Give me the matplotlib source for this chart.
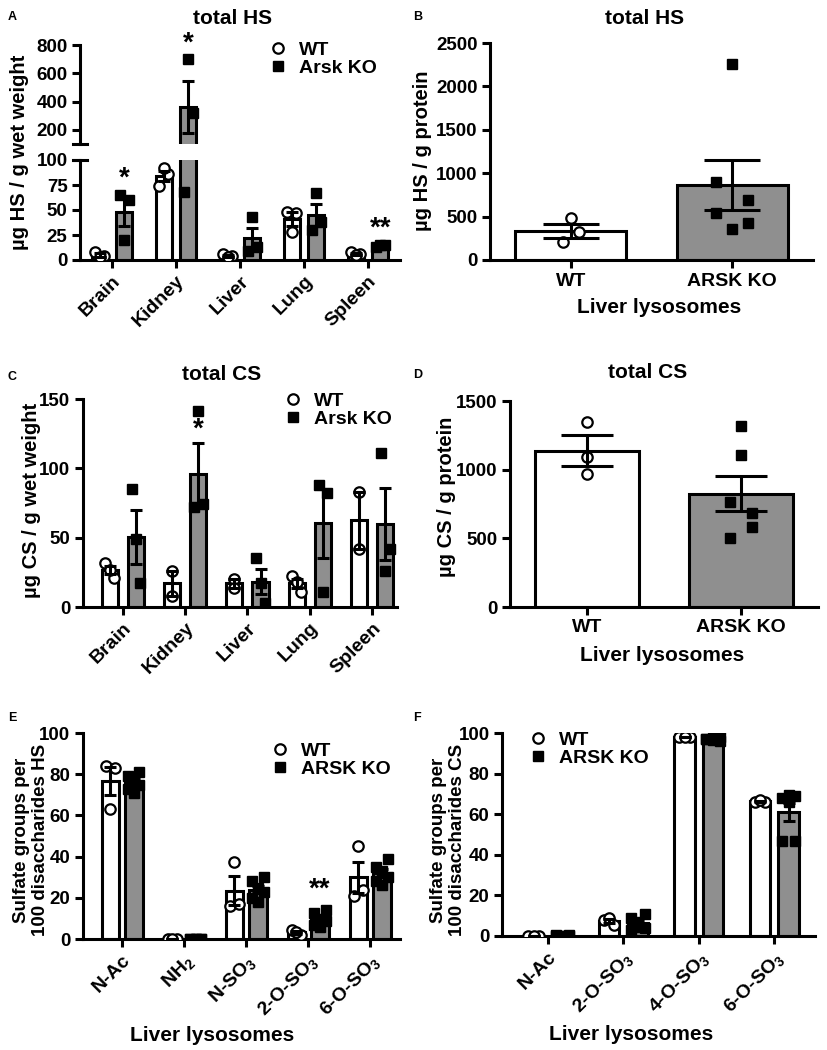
import numpy as np
import matplotlib
matplotlib.use('Agg')
import matplotlib.pyplot as plt
from matplotlib.lines import Line2D

plt.rcParams['font.family'] = ['Liberation Sans', 'DejaVu Sans']
plt.rcParams['font.weight'] = 'bold'
plt.rcParams['axes.labelweight'] = 'bold'
plt.rcParams['mathtext.fontset'] = 'custom'
plt.rcParams['mathtext.rm'] = 'Liberation Sans:bold'
plt.rcParams['mathtext.it'] = 'Liberation Sans:bold'
plt.rcParams['mathtext.bf'] = 'Liberation Sans:bold'
plt.rcParams['axes.linewidth'] = 2.2
for a in ('xtick', 'ytick'):
    plt.rcParams[a + '.major.width'] = 2.2
    plt.rcParams[a + '.major.size'] = 6
    plt.rcParams[a + '.major.pad'] = 3
    plt.rcParams[a + '.labelsize'] = 13.5

# ---- data ----
tissues = ['Brain', 'Kidney', 'Liver', 'Lung', 'Spleen']
# A: total HS, ug / g wet weight
hs_wt = [[8, 4, 3], [74, 86, 92], [6, 4, 3], [48, 47, 28], [8, 6, 5]]
hs_ko = [[65, 60, 20], [68, 319, 701], [9, 13, 43], [30, 38, 67], [13, 15, 15]]
hs_stars = ['*', '*', '', '', '**']
hs_star_y = [81, 807, 0, 0, 31]

# B: total HS, liver lysosomes, ug / g protein
hsp_wt = [210, 320, 480]
hsp_ko = [540, 430, 2260, 900, 690, 360]

# C: total CS, ug / g wet weight
cs_wt = [[32, 21, 27], [26, 8], [20, 14], [22, 11, 18], [83, 42]]
cs_ko = [[85, 17, 49], [72, 74, 141], [35, 3, 17], [88, 82, 11], [111, 42, 26]]
cs_stars = ['', '*', '', '', '']
cs_star_y = [0, 128, 0, 0, 0]

# D: total CS, liver lysosomes
csp_wt = [967, 1094, 1349]
csp_ko = [766, 681, 1318, 506, 579, 1106]

# E: HS sulfation
e_labels = ['N-Ac', 'NH$_2$', 'N-SO$_3$', '2-O-SO$_3$', '6-O-SO$_3$']
e_wt = [[84, 83, 63], [0, 0, 0], [16, 17, 37.6], [4.4, 2, 3.6], [21, 24, 45]]
e_ko = [[79, 81, 77, 73, 75, 71], [0, 0, 0, 0, 0, 0], [28, 30, 25, 20, 23, 18],
        [12.5, 14, 9.5, 7, 8.5, 6], [35, 39, 33, 28, 30, 26]]
e_stars = ['', '', '', '**', '']
e_star_y = [0, 0, 0, 24, 0]

# F: CS sulfation
f_labels = ['N-Ac', '2-O-SO$_3$', '4-O-SO$_3$', '6-O-SO$_3$']
f_wt = [[0, 0, 0], [8, 5.5, 9], [98, 98, 98], [66, 66, 67]]
f_ko = [[0.3, 0.5, 0.1, 0, 0.2, 0], [8.7, 11, 4.6, 3, 3.8, 7],
        [97, 98, 96.5, 97, 96, 97.5], [47, 47, 69.6, 68, 68.8, 66]]

GRAY = '#8f8f8f'
LW = 2.2
W, H = 827, 1050


def spread(n, w):
    if n == 3:
        return np.array([-w, w, 0])
    if n == 6:
        return np.array([-w, w, 0, -w, w, 0])
    return np.zeros(n)


def sem(g):
    g = np.asarray(g, float)
    return np.std(g, ddof=1) / np.sqrt(len(g))


def box(l, r, top, bot):
    return [l / W, 1 - bot / H, (r - l) / W, (bot - top) / H]


def grouped(ax, wt, ko, off, width, w3=0.07, w6=0.09, capsize=4, lo=None):
    # lo: lower limit of a broken-axis segment, only marks above it are drawn there
    x = np.arange(len(wt))
    mw = np.array([np.mean(g) for g in wt])
    mk = np.array([np.mean(g) for g in ko])
    ew = np.array([sem(g) for g in wt])
    ek = np.array([sem(g) for g in ko])
    ax.bar(x - off, mw, width, color='white', edgecolor='k', lw=LW, zorder=2)
    ax.bar(x + off, mk, width, color=GRAY, edgecolor='k', lw=LW, zorder=2)
    for i in range(len(wt)):
        for grp, sgn, style in ((wt[i], -1, dict(marker='o', mfc='white', mec='k', ms=7.5, mew=1.6)),
                                (ko[i], 1, dict(marker='s', color='k', ms=7))):
            n = len(grp)
            xs = x[i] + sgn * off + spread(n, w3 if n == 3 else w6)
            ys = np.asarray(grp, float)
            if lo is not None:
                keep = ys > lo
                xs, ys = xs[keep], ys[keep]
            if len(ys):
                ax.plot(xs, ys, ls='none', zorder=3, **style)
    for xs, m, e in ((x - off, mw, ew), (x + off, mk, ek)):
        keep = np.ones(len(m), bool) if lo is None else m > lo
        if keep.any():
            ax.errorbar(xs[keep], m[keep], yerr=e[keep], fmt='none', ecolor='k',
                        elinewidth=LW, capsize=capsize, capthick=LW, zorder=4)
    return x


def two_bar(ax, wt, ko, width, capsize, w_wt, w_ko):
    x = np.arange(2)
    m = [np.mean(wt), np.mean(ko)]
    ax.bar(x, m, width, color=['white', GRAY], edgecolor='k', lw=LW, zorder=2)
    ax.plot(x[0] + spread(len(wt), w_wt), wt, 'o', ls='none', mfc='white', mec='k',
            ms=7.5, mew=1.6, zorder=3)
    ax.plot(x[1] + spread(len(ko), w_ko), ko, 's', ls='none', color='k', ms=7, zorder=3)
    ax.errorbar(x, m, yerr=[sem(wt), sem(ko)], fmt='none', ecolor='k',
                elinewidth=LW, capsize=capsize, capthick=LW, zorder=4)
    ax.set_xlim(-0.5, 1.5)
    ax.set_xticks(x)
    ax.set_xticklabels(['WT', 'ARSK KO'], fontsize=14)
    for s in ('top', 'right'):
        ax.spines[s].set_visible(False)


def legend(ax, labels, x, y):
    hs = [Line2D([], [], marker='o', ls='none', mfc='white', mec='k', ms=7.5, mew=1.6),
          Line2D([], [], marker='s', ls='none', color='k', ms=7)]
    ax.legend(hs, labels, loc='upper left', bbox_to_anchor=(x, y), frameon=False,
              fontsize=14, handlelength=1.0, handletextpad=0.6, labelspacing=0.05,
              borderpad=0, borderaxespad=0)


def stars(ax, x, off, marks, ys):
    for i, s in enumerate(marks):
        if s:
            ax.text(x[i] + off, ys[i], s, ha='center', va='center', fontsize=20,
                    fontweight='bold', zorder=5)


def rot_labels(ax, labels):
    ax.set_xticklabels(labels, rotation=45, ha='right', rotation_mode='anchor', fontsize=14)


fig = plt.figure(figsize=(W / 100, H / 100), dpi=100)

# ---- A: broken axis ----
axAt = fig.add_axes(box(80, 400, 45, 144))
axAb = fig.add_axes(box(80, 400, 160, 260))
xA = grouped(axAt, hs_wt, hs_ko, 0.19, 0.25, lo=100)
grouped(axAb, hs_wt, hs_ko, 0.19, 0.25)
for ax in (axAt, axAb):
    ax.set_xlim(-0.5, 4.5)
    ax.spines['top'].set_visible(False)
    ax.spines['right'].set_visible(False)
axAt.set_ylim(100, 800)
axAt.set_yticks([200, 400, 600, 800])
axAt.spines['bottom'].set_visible(False)
axAt.tick_params(axis='x', bottom=False, labelbottom=False)
axAb.set_ylim(0, 100)
axAb.set_yticks([0, 25, 50, 75, 100])
axAb.set_xticks(xA)
rot_labels(axAb, tissues)
axAt.plot([-0.022, 0.022], [0, 0], transform=axAt.transAxes, color='k', lw=LW, clip_on=False)
axAb.plot([-0.022, 0.022], [1, 1], transform=axAb.transAxes, color='k', lw=LW, clip_on=False)
stars(axAb, xA, 0.19, ['*', '', '', '', '**'], hs_star_y)
stars(axAt, xA, 0.19, ['', '*', '', '', ''], hs_star_y)
legend(axAt, ['WT', 'Arsk KO'], 0.5875, 1.04)

# ---- B ----
axB = fig.add_axes(box(490, 813, 43, 260))
two_bar(axB, hsp_wt, hsp_ko, 0.69, 20, 0.05, 0.1)
axB.set_ylim(0, 2500)
axB.set_yticks([0, 500, 1000, 1500, 2000, 2500])

# ---- C ----
axC = fig.add_axes(box(83, 397, 399, 607))
xC = grouped(axC, cs_wt, cs_ko, 0.21, 0.26)
axC.set_xlim(-0.64, 4.4)
axC.set_ylim(0, 150)
axC.set_yticks([0, 50, 100, 150])
axC.set_xticks(xC)
rot_labels(axC, tissues)
for s in ('top', 'right'):
    axC.spines[s].set_visible(False)
stars(axC, xC, 0.21, cs_stars, cs_star_y)
legend(axC, ['WT', 'Arsk KO'], 0.637, 1.034)

# ---- D ----
axD = fig.add_axes(box(510, 818, 401, 607))
two_bar(axD, csp_wt, csp_ko, 0.67, 19, 0.0, 0.07)
axD.set_ylim(0, 1500)
axD.set_yticks([0, 500, 1000, 1500])

# ---- E ----
axE = fig.add_axes(box(83, 400, 733, 939))
xE = grouped(axE, e_wt, e_ko, 0.19, 0.28)
axE.set_xlim(-0.63, 4.48)
axE.set_ylim(0, 100)
axE.set_yticks([0, 20, 40, 60, 80, 100])
axE.set_xticks(xE)
rot_labels(axE, e_labels)
for s in ('top', 'right'):
    axE.spines[s].set_visible(False)
stars(axE, xE, 0.19, e_stars, e_star_y)
legend(axE, ['WT', 'ARSK KO'], 0.59, 0.956)

# ---- F ----
axF = fig.add_axes(box(502, 815, 733, 936))
xF = grouped(axF, f_wt, f_ko, 0.19, 0.27)
axF.set_xlim(-0.61, 3.54)
axF.set_ylim(0, 100)
axF.set_yticks([0, 20, 40, 60, 80, 100])
axF.set_xticks(xF)
rot_labels(axF, f_labels)
for s in ('top', 'right'):
    axF.spines[s].set_visible(False)
legend(axF, ['WT', 'ARSK KO'], 0.083, 1.01)

# ---- text: letters, titles, axis labels ----
def ftext(x, y, s, **kw):
    fig.text(x / W, 1 - y / H, s, **kw)

for lx, ly, s in [(8, 20, 'A'), (413, 20, 'B'), (7, 380, 'C'), (413, 378, 'D'),
                  (8, 721, 'E'), (413, 721, 'F')]:
    ftext(lx, ly, s, fontsize=9, fontweight='bold', va='baseline', ha='left')

for tx, ty, s in [(233, 24, 'total HS'), (645, 24, 'total HS'),
                  (222, 380, 'total CS'), (648, 378, 'total CS')]:
    ftext(tx, ty, s, fontsize=15, fontweight='bold', va='baseline', ha='center')

for tx, ty, s in [(659, 313, 'Liver lysosomes'), (662, 661, 'Liver lysosomes'),
                  (212, 1041, 'Liver lysosomes'), (631, 1040, 'Liver lysosomes')]:
    ftext(tx, ty, s, fontsize=15, fontweight='bold', va='baseline', ha='center')

for tx, ty, s, fs in [(20, 152, 'µg HS / g wet weight', 14.5),
                      (422, 151, 'µg HS / g protein', 14.5),
                      (32, 500, 'µg CS / g wet weight', 14.5),
                      (446, 497, 'µg CS / g protein', 14.5),
                      (31, 840, 'Sulfate groups per\n100 disaccharides HS', 13.5),
                      (448, 840, 'Sulfate groups per\n100 disaccharides CS', 13.5)]:
    ftext(tx, ty, s, fontsize=fs, fontweight='bold', rotation=90,
          ha='center', va='center', multialignment='center')

fig.savefig('out.png', dpi=100)
